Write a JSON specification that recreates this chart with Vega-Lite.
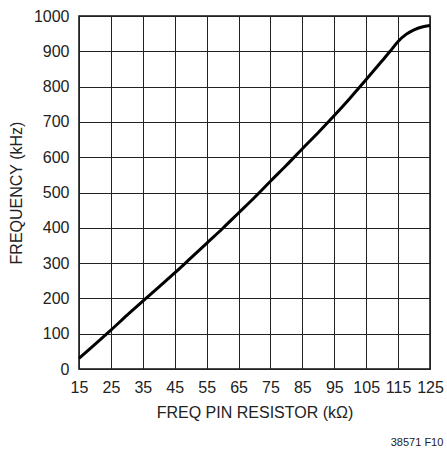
{
  "$schema": "https://vega.github.io/schema/vega-lite/v6.json",
  "width": 351,
  "height": 353,
  "autosize": {"type": "none"},
  "padding": {"left": 79, "top": 16, "right": 17, "bottom": 80},
  "background": "white",
  "config": {
    "view": {"stroke": "#111", "strokeWidth": 1.5},
    "font": "Liberation Sans, Arial, sans-serif"
  },
  "title": {
    "text": "38571 F10",
    "orient": "bottom",
    "anchor": "end",
    "fontSize": 11,
    "fontWeight": "normal",
    "color": "#222",
    "offset": 17,
    "font": "Liberation Sans, Arial, sans-serif"
  },
  "data": {
    "values": [
      {"r": 15, "f": 30},
      {"r": 20, "f": 70},
      {"r": 25, "f": 110},
      {"r": 30, "f": 152},
      {"r": 35, "f": 192},
      {"r": 40, "f": 232},
      {"r": 45, "f": 272},
      {"r": 50, "f": 314},
      {"r": 55, "f": 356},
      {"r": 60, "f": 398},
      {"r": 65, "f": 442},
      {"r": 70, "f": 486},
      {"r": 75, "f": 532},
      {"r": 80, "f": 577},
      {"r": 85, "f": 624},
      {"r": 90, "f": 670},
      {"r": 95, "f": 718},
      {"r": 100, "f": 768},
      {"r": 105, "f": 820},
      {"r": 110, "f": 873},
      {"r": 112.5, "f": 900},
      {"r": 115, "f": 928},
      {"r": 117.5, "f": 948},
      {"r": 120, "f": 961},
      {"r": 122.5, "f": 969},
      {"r": 125, "f": 973}
    ]
  },
  "mark": {"type": "line", "color": "black", "strokeWidth": 3, "interpolate": "monotone"},
  "encoding": {
    "x": {
      "field": "r",
      "type": "quantitative",
      "scale": {"domain": [15, 125], "nice": false, "zero": false},
      "axis": {
        "values": [15, 25, 35, 45, 55, 65, 75, 85, 95, 105, 115, 125],
        "format": "d",
        "labelOverlap": false,
        "title": "FREQ PIN RESISTOR (kΩ)",
        "titleFontSize": 16,
        "titleFontWeight": "normal",
        "titleColor": "#222",
        "titlePadding": 9,
        "labelFontSize": 16,
        "labelColor": "#222",
        "labelPadding": 10,
        "labelFlush": false,
        "ticks": false,
        "domain": false,
        "grid": true,
        "gridColor": "#222",
        "gridOpacity": 1,
        "gridWidth": 1
      }
    },
    "y": {
      "field": "f",
      "type": "quantitative",
      "scale": {"domain": [0, 1000], "nice": false},
      "axis": {
        "values": [0, 100, 200, 300, 400, 500, 600, 700, 800, 900, 1000],
        "format": "d",
        "labelOverlap": false,
        "labelFlush": false,
        "title": "FREQUENCY (kHz)",
        "titleFontSize": 16,
        "titleFontWeight": "normal",
        "titleColor": "#222",
        "titlePadding": 9,
        "labelFontSize": 16,
        "labelColor": "#222",
        "labelPadding": 10,
        "ticks": false,
        "domain": false,
        "grid": true,
        "gridColor": "#222",
        "gridOpacity": 1,
        "gridWidth": 1
      }
    }
  }
}
